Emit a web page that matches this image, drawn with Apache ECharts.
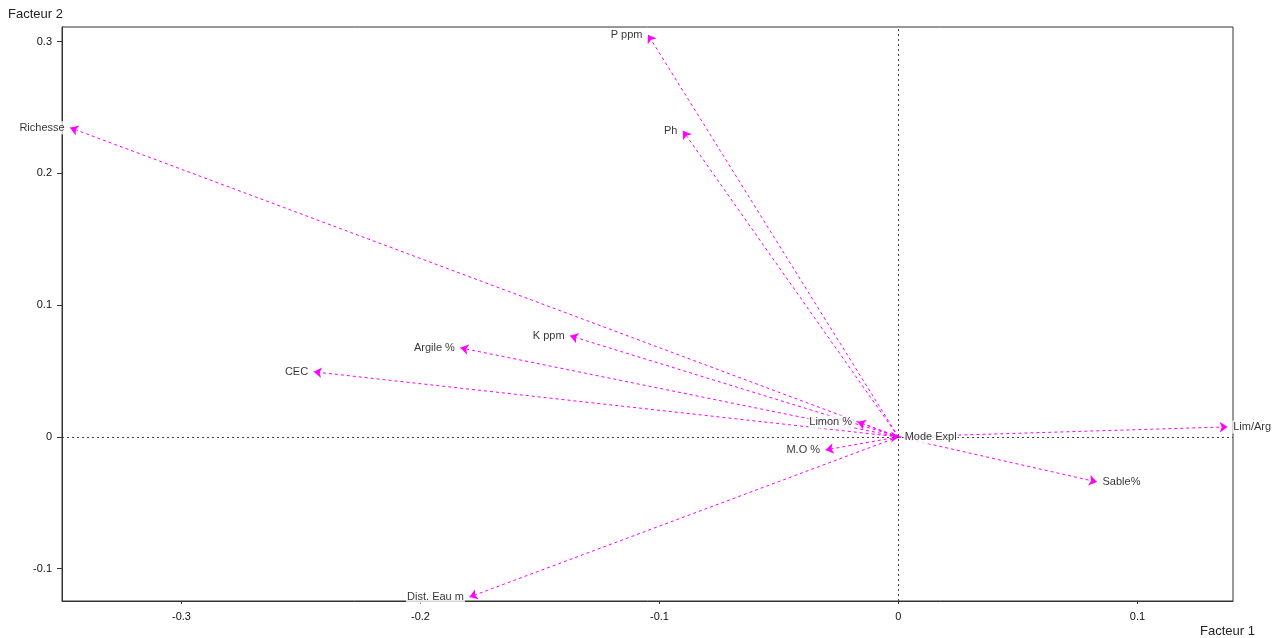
<!DOCTYPE html>
<html><head><meta charset="utf-8">
<script src="https://cdn.jsdelivr.net/npm/echarts@6/dist/echarts.min.js"></script>
<style>html,body{margin:0;padding:0;background:#fff}#c{width:1279px;height:638px}</style>
</head><body><div id="c"></div>
<script>
var names = ["P ppm","Ph","Richesse","K ppm","Argile %","CEC","Limon %","M.O %","Dist. Eau m","Lim/Arg","Sable%","Mode Expl"];
var factor1 = [-0.1048,-0.0902,-0.3466,-0.1374,-0.1833,-0.2447,-0.0171,-0.0305,-0.1795,0.1378,0.0831,0.0003];
var factor2 = [0.3052,0.2323,0.2346,0.0767,0.0676,0.0494,0.0114,-0.0099,-0.1215,0.0076,-0.0342,0.0000];
var labelSide = ["left","left","left","left","left","left","left","left","left","right","right","right"];
var xTicks = [-0.3,-0.2,-0.1,0,0.1];
var yTicks = [-0.1,0,0.1,0.2,0.3];

var lineData = names.map(function(n,i){ return {coords:[[0,0],[factor1[i],factor2[i]]]}; });
var ptData = names.map(function(n,i){ return {name:n, value:[factor1[i],factor2[i]], label:{position:labelSide[i]}}; });
var fmt = function(v){ var r = Math.round(v*10)/10; return r===0 ? "0" : String(r); };

var chart = echarts.init(document.getElementById('c'));
chart.setOption({
  animation:false,
  backgroundColor:'#fff',
  grid:{left:62,right:46,top:27,bottom:37,containLabel:false,outerBoundsMode:'none',show:true,borderColor:'#333',borderWidth:1,backgroundColor:'transparent'},
  xAxis:{type:'value',min:-0.35,max:0.14,
    axisLine:{show:true,onZero:false,lineStyle:{color:'#333'}},
    axisTick:{show:true,customValues:xTicks,length:3,lineStyle:{color:'#333'}},
    axisLabel:{customValues:xTicks,formatter:fmt,color:'#111',fontFamily:'Liberation Sans, Arial',fontSize:11,margin:10},
    splitLine:{show:false},
    name:'Facteur 1',nameLocation:'end',nameGap:0,
    nameTextStyle:{color:'#222',fontFamily:'Liberation Sans, Arial',fontSize:13,align:'right',verticalAlign:'top',padding:[24,-22,0,0]}
  },
  yAxis:{type:'value',min:-0.1245,max:0.311,
    axisLine:{show:true,onZero:false,lineStyle:{color:'#333'}},
    axisTick:{show:true,customValues:yTicks,length:5,lineStyle:{color:'#333'}},
    axisLabel:{customValues:yTicks,formatter:fmt,color:'#111',fontFamily:'Liberation Sans, Arial',fontSize:11,margin:10},
    splitLine:{show:false},
    name:'Facteur 2',nameLocation:'end',nameGap:0,
    nameTextStyle:{color:'#222',fontFamily:'Liberation Sans, Arial',fontSize:13,align:'left',verticalAlign:'bottom',padding:[0,0,6,-54]}
  },
  series:[
    {type:'scatter',data:[],silent:true,
      markLine:{silent:true,symbol:'none',label:{show:false},
        lineStyle:{color:'#444',type:[2,3],width:1},
        data:[{xAxis:0},{yAxis:0}]}
    },
    {type:'lines',coordinateSystem:'cartesian2d',silent:true,z:3,
      symbol:['none','arrow'],symbolSize:[0,8],
      lineStyle:{color:'#ff00ff',type:[3,3],width:1,opacity:1},
      data:lineData},
    {type:'scatter',symbolSize:1,silent:true,z:10,
      itemStyle:{color:'rgba(0,0,0,0)'},
      label:{show:true,formatter:'{b}',color:'#000',fontFamily:'Liberation Sans, Arial',fontSize:11,
        backgroundColor:'#fff',padding:[1,1,1,1],distance:4},
      data:ptData}
  ]
});
</script></body></html>
